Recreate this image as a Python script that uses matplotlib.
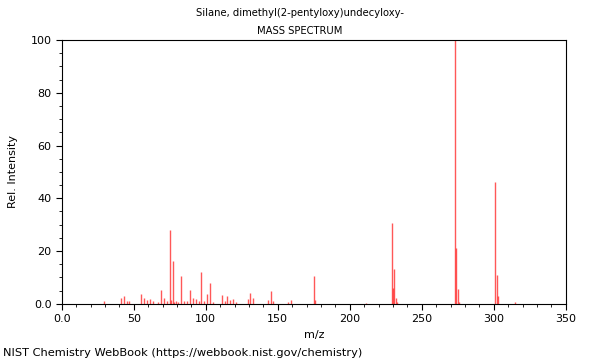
import matplotlib
matplotlib.use("Agg")
import matplotlib.pyplot as plt
from matplotlib.ticker import MultipleLocator

TITLE = "Silane, dimethyl(2-pentyloxy)undecyloxy-"

# peaks (m/z, relative intensity)
MZ = [29, 41, 43, 45, 47, 55, 57, 59, 61, 63, 67, 69, 71, 73, 75, 76, 77, 78,
      79, 81, 83, 85, 87, 89, 91, 93, 95, 97, 99, 101, 103, 105, 111, 113, 115,
      117, 119, 121, 129, 131, 133, 143, 145, 147, 157, 159, 175, 176, 211,
      229, 230, 231, 232, 233, 273, 274, 275, 276, 301, 302, 303, 315]
INTENSITY = [0.9, 2.4, 3.0, 0.9, 0.9, 3.8, 2.4, 1.3, 1.7, 0.9, 0.8, 5.4, 2.4,
             1.0, 27.8, 1.6, 16.4, 0.8, 1.2, 0.8, 10.4, 1.0, 1.0, 5.3, 2.4,
             1.7, 1.0, 12.1, 1.0, 3.8, 7.8, 0.8, 3.4, 1.0, 2.9, 1.3, 2.0, 0.8,
             1.8, 4.1, 2.4, 1.3, 4.8, 1.0, 0.8, 1.5, 10.5, 1.5, 0.5, 30.8,
             5.9, 13.2, 2.4, 0.6, 100.0, 21.3, 5.8, 0.6, 46.3, 11.1, 2.8, 0.6]


def tick_fmt(v, pos):
    # NIST style: only the origin gets a decimal
    return "0.0" if v == 0 else f"{v:g}"


fig = plt.figure(figsize=(6.0, 3.6), dpi=100)
ax = fig.add_axes([0.103, 0.156, 0.840, 0.733])

ax.vlines(MZ, 0, INTENSITY, color="#ff2020", lw=1.0, alpha=0.75)

ax.set_xlim(0, 350)
ax.set_ylim(0, 100)
ax.xaxis.set_major_locator(MultipleLocator(50))
ax.xaxis.set_minor_locator(MultipleLocator(10))
ax.yaxis.set_major_locator(MultipleLocator(20))
ax.yaxis.set_minor_locator(MultipleLocator(5))
ax.xaxis.set_major_formatter(plt.FuncFormatter(tick_fmt))
ax.yaxis.set_major_formatter(plt.FuncFormatter(tick_fmt))
ax.tick_params(labelsize=8, length=4, width=0.8)
ax.tick_params(which="minor", length=2, width=0.6)
for s in ax.spines.values():
    s.set_linewidth(0.8)

ax.set_xlabel("m/z", fontsize=8)
ax.set_ylabel("Rel. Intensity", fontsize=8, labelpad=9)
fig.text(0.5, 0.963, TITLE, ha="center", va="center", fontsize=7.2)
fig.text(0.5, 0.915, "MASS SPECTRUM", ha="center", va="center", fontsize=7.2)
fig.text(0.005, 0.02, "NIST Chemistry WebBook (https://webbook.nist.gov/chemistry)",
         ha="left", va="center", fontsize=8.2)

fig.savefig("out.png", dpi=100)
